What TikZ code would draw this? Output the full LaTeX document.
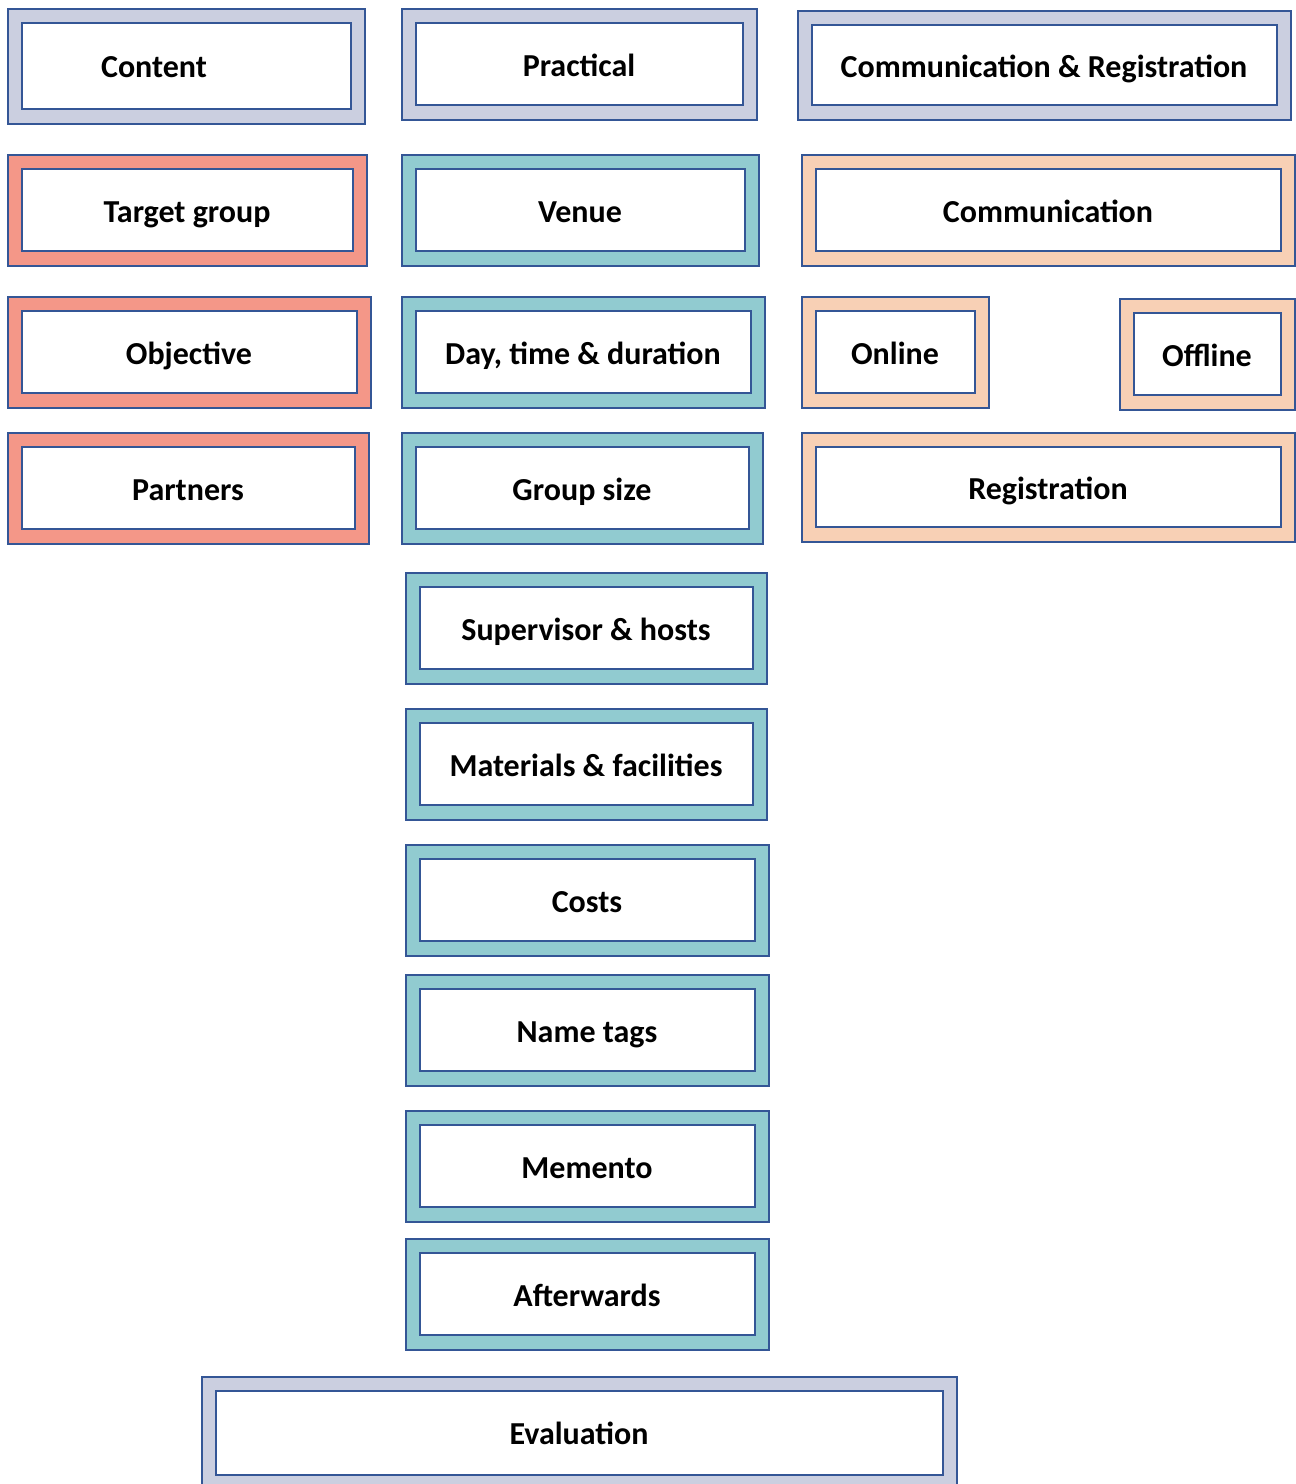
\documentclass[tikz,border=0pt]{standalone}
\usepackage{fontspec}
\setmainfont{Carlito}
\usetikzlibrary{calc}

\definecolor{edge}{RGB}{52,86,150}
\definecolor{lav}{RGB}{203,207,224}
\definecolor{salmon}{RGB}{244,151,136}
\definecolor{teal}{RGB}{145,203,208}
\definecolor{peach}{RGB}{248,208,181}

\tikzset{
  outer/.style={draw=edge, line width=1.5pt},
  inner/.style={draw=edge, fill=white, line width=1.5pt},
  lbl/.style={font=\fontsize{32}{38}\selectfont\bfseries, inner sep=0pt,
    text height=20.5pt, text depth=0pt}
}

% framed box: corners (x1,y1) (x2,y2), fill colour
\newcommand{\evbox}[5]{%
  \draw[outer, fill=#5] (#1,#2) rectangle (#3,#4);
  \draw[inner] (#1+14,#2+14) rectangle (#3-14,#4-15);}

\begin{document}
\begin{tikzpicture}[x=1pt,y=-1pt]
  \useasboundingbox (0,0) rectangle (1296,1484);
  \clip (0,0) rectangle (1296,1484);

  % headings
  \evbox{8}{9}{365}{124}{lav}
  \node[lbl] (content) at (154,67) {Content};
  \evbox{402}{9}{757}{120}{lav}
  \node[lbl] (practical) at (579,66) {Practical};
  \evbox{798}{11}{1291}{120}{lav}
  \node[lbl] (commreg) at (1044,67) {Communication \& Registration};

  % content column
  \evbox{8}{155}{367}{266}{salmon}
  \node[lbl] (target) at (187,212) {Target group};
  \evbox{8}{297}{371}{408}{salmon}
  \node[lbl] (objective) at (189,354) {Objective};
  \evbox{8}{433}{369}{544}{salmon}
  \node[lbl] (partners) at (188,490) {Partners};

  % practical column
  \evbox{402}{155}{759}{266}{teal}
  \node[lbl] (venue) at (580,212) {Venue};
  \evbox{402}{297}{765}{408}{teal}
  \node[lbl] (daytime) at (583,354) {Day, time \& duration};
  \evbox{402}{433}{763}{544}{teal}
  \node[lbl] (groupsize) at (582,490) {Group size};
  \evbox{406}{573}{767}{684}{teal}
  \node[lbl] (supervisor) at (586,630) {Supervisor \& hosts};
  \evbox{406}{709}{767}{820}{teal}
  \node[lbl] (materials) at (586,766) {Materials \& facilities};
  \evbox{406}{845}{769}{956}{teal}
  \node[lbl] (costs) at (587,902) {Costs};
  \evbox{406}{975}{769}{1086}{teal}
  \node[lbl] (nametags) at (587,1032) {Name tags};
  \evbox{406}{1111}{769}{1222}{teal}
  \node[lbl] (memento) at (587,1168) {Memento};
  \evbox{406}{1239}{769}{1350}{teal}
  \node[lbl] (afterwards) at (587,1296) {Afterwards};

  % communication column
  \evbox{802}{155}{1295}{266}{peach}
  \node[lbl] (communication) at (1048,212) {Communication};
  \evbox{802}{297}{989}{408}{peach}
  \node[lbl] (online) at (895,354) {Online};
  \evbox{1120}{299}{1295}{410}{peach}
  \node[lbl] (offline) at (1207,356) {Offline};
  \evbox{802}{433}{1295}{542}{peach}
  \node[lbl] (registration) at (1048,489) {Registration};

  % evaluation
  \evbox{202}{1377}{957}{1490}{lav}
  \node[lbl] (evaluation) at (579,1434) {Evaluation};
\end{tikzpicture}
\end{document}
